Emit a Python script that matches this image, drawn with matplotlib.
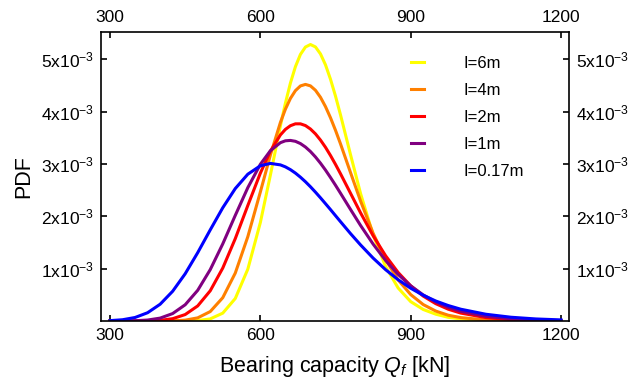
import matplotlib
matplotlib.use("Agg")
import matplotlib.pyplot as plt

plt.rcParams["font.family"] = ["Liberation Sans", "DejaVu Sans"]
plt.rcParams["mathtext.fontset"] = "custom"
plt.rcParams["mathtext.rm"] = "Liberation Sans"
plt.rcParams["mathtext.it"] = "Liberation Sans:italic"

# bearing capacity grid [kN]
q = [300, 325, 350, 375, 400, 425, 450, 475, 500, 525, 550, 575, 600, 620,
     640, 650, 660, 670, 680, 690, 700, 710, 720, 730, 740, 750, 760, 780,
     800, 825, 850, 875, 900, 925, 950, 975, 1000, 1050, 1100, 1150, 1200]

# PDF values (x1e-3)
pdf_6m = [0, 0, 0, 0, 0, 0, 0.001, 0.008, 0.04, 0.15, 0.43, 0.99, 1.88,
          2.785, 3.726, 4.160, 4.544, 4.858, 5.092, 5.233, 5.281, 5.235,
          5.102, 4.893, 4.618, 4.295, 3.937, 3.176, 2.435, 1.645, 1.04, 0.63,
          0.37, 0.22, 0.13, 0.07, 0.04, 0.01, 0.003, 0, 0]
pdf_4m = [0, 0, 0, 0, 0, 0.003, 0.016, 0.06, 0.18, 0.445, 0.916, 1.61,
          2.464, 3.168, 3.791, 4.046, 4.251, 4.400, 4.490, 4.519, 4.491,
          4.407, 4.273, 4.095, 3.882, 3.642, 3.383, 2.834, 2.291, 1.677,
          1.171, 0.784, 0.505, 0.314, 0.19, 0.11, 0.065, 0.02, 0.006, 0.002, 0]
pdf_2m = [0, 0, 0, 0.003, 0.012, 0.044, 0.123, 0.288, 0.577, 1.011, 1.574,
          2.206, 2.824, 3.244, 3.554, 3.660, 3.730, 3.766, 3.766, 3.733,
          3.667, 3.574, 3.456, 3.318, 3.161, 2.991, 2.812, 2.439, 2.066,
          1.629, 1.246, 0.926, 0.672, 0.476, 0.331, 0.225, 0.151, 0.065,
          0.026, 0.01, 0.004]
pdf_1m = [0, 0.001, 0.005, 0.018, 0.055, 0.142, 0.31, 0.586, 0.981, 1.473,
          2.018, 2.547, 2.993, 3.252, 3.406, 3.442, 3.449, 3.432, 3.389,
          3.323, 3.237, 3.133, 3.014, 2.883, 2.741, 2.593, 2.44, 2.13, 1.825,
          1.47, 1.156, 0.89, 0.672, 0.498, 0.363, 0.261, 0.186, 0.09, 0.042,
          0.019, 0.008]
pdf_017m = [0.007, 0.024, 0.067, 0.158, 0.32, 0.568, 0.902, 1.305, 1.74,
            2.163, 2.53, 2.804, 2.965, 3.01, 2.982, 2.944, 2.891, 2.825,
            2.747, 2.66, 2.564, 2.461, 2.353, 2.241, 2.128, 2.012, 1.897,
            1.669, 1.453, 1.202, 0.98, 0.788, 0.626, 0.492, 0.382, 0.295,
            0.225, 0.129, 0.072, 0.039, 0.021]

series = [pdf_6m, pdf_4m, pdf_2m, pdf_1m, pdf_017m]
labels = ["I=6m", "I=4m", "I=2m", "I=1m", "I=0.17m"]
colors = ["#ffff00", "#ff8000", "#ff0000", "#800080", "#0000ff"]

xticks = [300, 600, 900, 1200]
yticks = [1e-3, 2e-3, 3e-3, 4e-3, 5e-3]
ytick_labels = ["%dx10$^{-3}$" % k for k in range(1, 6)]

fig = plt.figure(figsize=(6.34, 3.81), dpi=100)
ax = fig.add_axes([0.1593, 0.1575, 0.7382, 0.7585])

for vals, lab, c in zip(series, labels, colors):
    ax.plot(q, [v * 1e-3 for v in vals], color=c, lw=2.2, label=lab,
            solid_joinstyle="round")

ax.set_xlim(282, 1216)
ax.set_ylim(0, 5.52e-3)
ax.set_xticks(xticks)
ax.set_yticks(yticks)
ax.set_yticklabels(ytick_labels)

ax.tick_params(direction="in", length=4, width=1.2, labelsize=12.5,
               top=True, right=True, labeltop=True, labelright=True, pad=5)
for sp in ax.spines.values():
    sp.set_linewidth(1.2)

ax.set_xlabel("Bearing capacity $Q_f$ [kN]", fontsize=15.5, labelpad=8)
ax.set_ylabel("PDF", fontsize=15.5, labelpad=5)

ax.legend(loc="upper left", bbox_to_anchor=(0.662, 0.918), frameon=False,
          fontsize=12, handlelength=0.8, handletextpad=2.35,
          labelspacing=0.72, borderpad=0, borderaxespad=0)

fig.savefig("out.png", dpi=100)
